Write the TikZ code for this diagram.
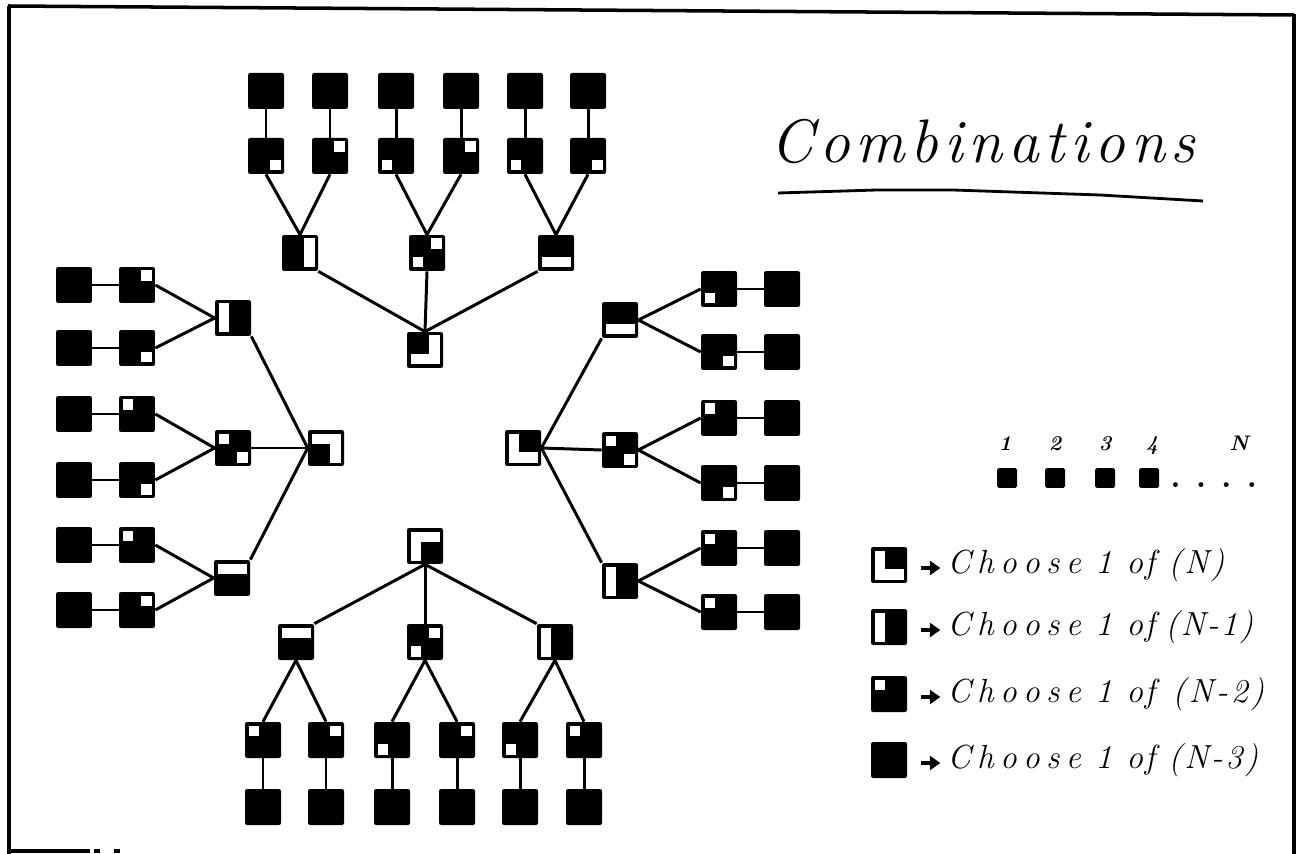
\documentclass[tikz,border=0pt]{standalone}
\usepackage{fontspec}
\usetikzlibrary{arrows.meta}
% black quadrant lists (sx/sy, y pointing down)
\def\kTL{-1/-1}\def\kTR{1/-1}\def\kBL{-1/1}\def\kBR{1/1}
\def\kL{-1/-1,-1/1}\def\kR{1/-1,1/1}\def\kT{-1/-1,1/-1}\def\kB{-1/1,1/1}
\def\kD{-1/-1,1/1}\def\kA{1/-1,-1/1}
\def\oTL{1/-1,-1/1,1/1}\def\oTR{-1/-1,-1/1,1/1}\def\oBL{-1/-1,1/-1,1/1}\def\oBR{-1/-1,1/-1,-1/1}
\newcommand\qn[4]{%
  \node[sq] (#1) at (#2,#3) {};
  \begin{scope}[shift={(#2,#3)}]
    \fill[white] (-14.5,-14.5) rectangle (14.5,14.5);
    \foreach \sx/\sy in #4 {\fill[black] ({-4*(\sx)},{-4*(\sy)}) rectangle ({14.6*(\sx)},{14.6*(\sy)});}
  \end{scope}}
\makeatletter
\newcommand\lsp[2]{\@tfor\lspch:=#2\do{\lspch\kern#1}\kern-#1}
\makeatother
\begin{document}
\begin{tikzpicture}[x=0.02cm,y=-0.02cm,
  sq/.style={rectangle,fill=black,minimum size=0.72cm,inner sep=0pt,rounded corners=1.2pt},
  ssq/.style={rectangle,fill=black,minimum size=0.4cm,inner sep=0pt,rounded corners=1pt},
  edge/.style={line width=1.7pt},
  frame/.style={line width=2pt},
  arr/.style={line width=2pt,-{Triangle[length=6pt,width=8pt]}},
  lbl/.style={font=\itshape\fontsize{19}{23}\selectfont,anchor=base west,inner sep=0pt},
  num/.style={font=\bfseries\itshape\fontsize{12}{14}\selectfont,anchor=base,inner sep=0pt}]
\useasboundingbox (0,0) rectangle (1297,854);
% frame
\draw[frame] (8,6) -- (1294,15);
\draw[frame] (9,6) -- (9,854);
\draw[frame] (1294,14) -- (1294,854);
\draw[frame] (8,851) -- (90,851);
\draw[frame] (94,851) -- (100,851);
\draw[frame] (114,851) -- (120,851);
% ---------- top tree
\qn{T0}{425}{350}{\kTL}
\qn{T1}{300}{253}{\kL}
\qn{T2}{427}{253}{\kD}
\qn{T3}{556}{253}{\kT}
\qn{T11}{266}{156}{\oBR}
\qn{T12}{330}{156}{\oTR}
\qn{T21}{396}{156}{\oBL}
\qn{T22}{461}{156}{\oTR}
\qn{T31}{525}{156}{\oBL}
\qn{T32}{588}{156}{\oBR}
\foreach \n/\x in {T11/266,T12/330,T21/396,T22/461,T31/525,T32/588}
  {\node[sq] (\n-4) at (\x,91) {};}
\draw[edge] (T0.north) -- (T1.south east);
\draw[edge] (T0.north) -- (T2.south);
\draw[edge] (T0.north) -- (T3.south west);
\foreach \a/\b in {T1/T11,T1/T12,T2/T21,T2/T22,T3/T31,T3/T32}
  {\draw[edge] (\a.north) -- (\b.south);}
\foreach \n in {T11,T12,T21,T22,T31,T32}
  {\draw[edge] (\n.north) -- (\n-4.south);}
% ---------- left tree
\qn{L0}{326}{448}{\kBL}
\qn{L1}{233}{318}{\kR}
\qn{L2}{233}{448}{\kA}
\qn{L3}{232}{578}{\kB}
\qn{L11}{137}{285}{\oTR}
\qn{L12}{137}{348}{\oBR}
\qn{L21}{137}{414}{\oTL}
\qn{L22}{137}{480}{\oBR}
\qn{L31}{137}{545}{\oTL}
\qn{L32}{137}{610}{\oTR}
\foreach \n/\y in {L11/285,L12/348,L21/414,L22/480,L31/545,L32/610}
  {\node[sq] (\n-4) at (74,\y) {};}
\draw[edge] (L0.west) -- (L1.south east);
\draw[edge] (L0.west) -- (L2.east);
\draw[edge] (L0.west) -- (L3.north east);
\foreach \a/\b in {L1/L11,L1/L12,L2/L21,L2/L22,L3/L31,L3/L32}
  {\draw[edge] (\a.west) -- (\b.east);}
\foreach \n in {L11,L12,L21,L22,L31,L32}
  {\draw[edge] (\n.west) -- (\n-4.east);}
% ---------- right tree
\qn{R0}{523}{448}{\kTR}
\qn{R1}{620}{320}{\kT}
\qn{R2}{620}{450}{\kA}
\qn{R3}{620}{581}{\kR}
\qn{R11}{719}{289}{\oBL}
\qn{R12}{719}{352}{\oBR}
\qn{R21}{719}{418}{\oTL}
\qn{R22}{719}{483}{\oBR}
\qn{R31}{719}{548}{\oTL}
\qn{R32}{719}{612}{\oTL}
\foreach \n/\y in {R11/289,R12/352,R21/418,R22/483,R31/548,R32/612}
  {\node[sq] (\n-4) at (782,\y) {};}
\draw[edge] (R0.east) -- (R1.south west);
\draw[edge] (R0.east) -- (R2.west);
\draw[edge] (R0.east) -- (R3.north west);
\foreach \a/\b in {R1/R11,R1/R12,R2/R21,R2/R22,R3/R31,R3/R32}
  {\draw[edge] (\a.east) -- (\b.west);}
\foreach \n in {R11,R12,R21,R22,R31,R32}
  {\draw[edge] (\n.east) -- (\n-4.west);}
% ---------- bottom tree
\qn{B0}{425}{546}{\kBR}
\qn{B1}{296}{642}{\kB}
\qn{B2}{425}{642}{\kD}
\qn{B3}{555}{642}{\kR}
\qn{B11}{263}{740}{\oTL}
\qn{B12}{326}{740}{\oTR}
\qn{B21}{392}{740}{\oBL}
\qn{B22}{457}{740}{\oTR}
\qn{B31}{520}{740}{\oBL}
\qn{B32}{584}{740}{\oTL}
\foreach \n/\x in {B11/263,B12/326,B21/392,B22/457,B31/520,B32/584}
  {\node[sq] (\n-4) at (\x,807) {};}
\draw[edge] (B0.south) -- (B1.north east);
\draw[edge] (B0.south) -- (B2.north);
\draw[edge] (B0.south) -- (B3.north west);
\foreach \a/\b in {B1/B11,B1/B12,B2/B21,B2/B22,B3/B31,B3/B32}
  {\draw[edge] (\a.south) -- (\b.north);}
\foreach \n in {B11,B12,B21,B22,B31,B32}
  {\draw[edge] (\n.south) -- (\n-4.north);}
% ---------- title
\node[font=\itshape\fontsize{35}{42}\selectfont,anchor=base west,inner sep=0pt] (title) at (770,163) {\lsp{3.3pt}{Combinations}};
\draw[line width=1.6pt] (778,193) -- (877,190) -- (953,190) -- (1100,195) -- (1203,201);
% ---------- 1 2 3 4 N
\node[num] (n1) at (1005,450) {1};
\node[num] (n2) at (1055,450) {2};
\node[num] (n3) at (1105,450) {3};
\node[num] (n4) at (1152,450) {4};
\node[num] (nN) at (1239,450) {N};
\node[ssq] (s1) at (1007,478) {};
\node[ssq] (s2) at (1055,478) {};
\node[ssq] (s3) at (1105,478) {};
\node[ssq] (s4) at (1149,478) {};
\node[font=\bfseries\fontsize{19}{23}\selectfont,anchor=base west,inner sep=0pt] (dots) at (1170,487) {.\hspace{0.3cm}.\hspace{0.3cm}.\hspace{0.3cm}.};
% ---------- legend
\qn{G1}{889}{565}{\kTR}
\qn{G2}{889}{627}{\kR}
\qn{G3}{889}{694}{\oTL}
\node[sq] (G4) at (889,760) {};
\foreach \i/\y in {1/573,2/635,3/702,4/768}{
  \node[lbl] (C\i a) at (947,\y) {\lsp{3.6pt}{Choose}};
  \node[lbl] (C\i b) at (1095,\y) {1};
  \node[lbl] (C\i c) at (1126,\y) {\lsp{1pt}{of}};
  \draw[arr] ([xshift=0.28cm,yshift=-0.06cm]G\i.east) -- ([xshift=0.66cm,yshift=-0.06cm]G\i.east);
}
\node[lbl] (C1d) at (1168,573) {\lsp{1.5pt}{(N)}};
\node[lbl] (C2d) at (1165,635) {\lsp{1.2pt}{(N-1)}};
\node[lbl] (C3d) at (1172,702) {\lsp{1.8pt}{(N-2)}};
\node[lbl] (C4d) at (1168,768) {\lsp{1.5pt}{(N-3)}};
\end{tikzpicture}
\end{document}
